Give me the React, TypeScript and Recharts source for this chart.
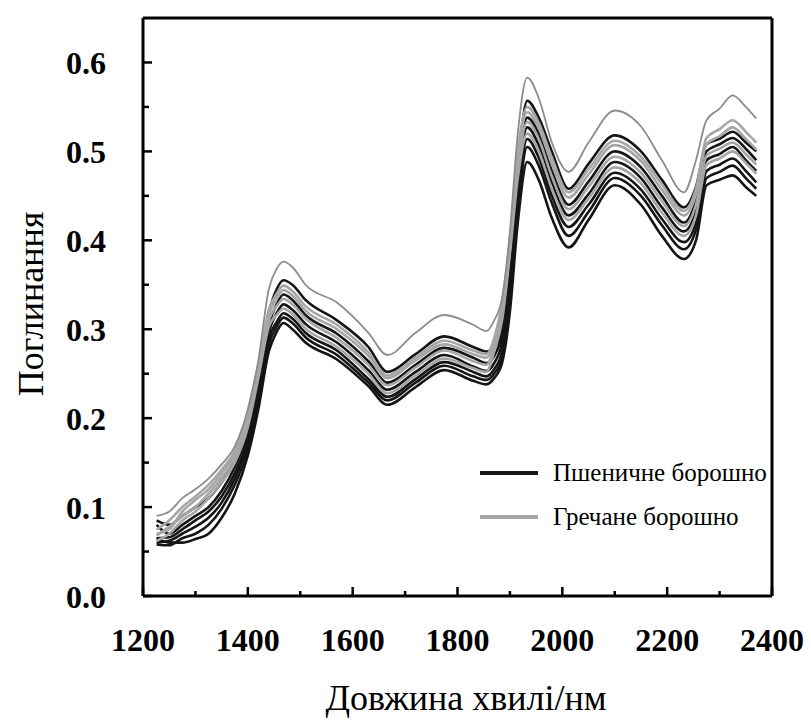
import React from 'react';
import { LineChart, Line, XAxis, YAxis, Legend, ReferenceLine } from 'recharts';

const wavelengths = [
  1226, 1250, 1275, 1300, 1325, 1350, 1375, 1400, 1420, 1440,
  1455, 1468, 1485, 1510, 1570, 1630, 1666, 1720, 1775, 1830,
  1855, 1870, 1885, 1900, 1915, 1933, 1955, 1980, 2012, 2050,
  2100, 2150, 2190, 2232, 2255, 2275, 2300, 2325, 2350, 2370,
];

// Buckwheat flour (gray)
const G1 = [
  0.090, 0.095, 0.110, 0.120, 0.132, 0.148, 0.168, 0.210, 0.265, 0.345,
  0.368, 0.376, 0.370, 0.350, 0.330, 0.296, 0.271, 0.296, 0.316, 0.305,
  0.298, 0.310, 0.335, 0.410, 0.520, 0.583, 0.560, 0.510, 0.477, 0.510,
  0.546, 0.528, 0.490, 0.454, 0.490, 0.535, 0.548, 0.563, 0.550, 0.537,
];
const G2 = [
  0.075, 0.085, 0.100, 0.112, 0.125, 0.142, 0.163, 0.205, 0.260, 0.322,
  0.340, 0.349, 0.343, 0.326, 0.305, 0.274, 0.248, 0.268, 0.287, 0.276,
  0.272, 0.290, 0.330, 0.400, 0.500, 0.550, 0.532, 0.493, 0.454, 0.480,
  0.512, 0.494, 0.463, 0.433, 0.458, 0.515, 0.525, 0.535, 0.522, 0.510,
];
const G3 = [
  0.070, 0.075, 0.095, 0.108, 0.120, 0.138, 0.160, 0.200, 0.255, 0.316,
  0.335, 0.344, 0.338, 0.321, 0.300, 0.270, 0.245, 0.265, 0.283, 0.272,
  0.268, 0.285, 0.320, 0.390, 0.490, 0.544, 0.526, 0.486, 0.448, 0.474,
  0.507, 0.489, 0.457, 0.428, 0.452, 0.508, 0.517, 0.527, 0.514, 0.502,
];
const G4 = [
  0.068, 0.078, 0.090, 0.100, 0.115, 0.133, 0.155, 0.196, 0.250, 0.310,
  0.326, 0.334, 0.328, 0.312, 0.290, 0.260, 0.237, 0.257, 0.276, 0.264,
  0.260, 0.280, 0.315, 0.390, 0.480, 0.533, 0.514, 0.472, 0.435, 0.460,
  0.494, 0.476, 0.444, 0.416, 0.440, 0.495, 0.503, 0.510, 0.497, 0.485,
];
const G5 = [
  0.062, 0.070, 0.085, 0.095, 0.110, 0.128, 0.150, 0.190, 0.245, 0.303,
  0.316, 0.323, 0.317, 0.301, 0.280, 0.250, 0.228, 0.248, 0.267, 0.256,
  0.252, 0.275, 0.310, 0.385, 0.470, 0.520, 0.500, 0.458, 0.423, 0.447,
  0.482, 0.464, 0.431, 0.405, 0.428, 0.485, 0.492, 0.500, 0.487, 0.475,
];

// Wheat flour (black)
const B1 = [
  0.085, 0.080, 0.090, 0.100, 0.110, 0.128, 0.152, 0.190, 0.245, 0.318,
  0.345, 0.355, 0.350, 0.333, 0.310, 0.280, 0.252, 0.272, 0.292, 0.280,
  0.275, 0.280, 0.300, 0.370, 0.480, 0.557, 0.538, 0.500, 0.458, 0.486,
  0.518, 0.500, 0.468, 0.437, 0.460, 0.508, 0.514, 0.522, 0.510, 0.500,
];
const B2 = [
  0.080, 0.070, 0.080, 0.090, 0.100, 0.118, 0.145, 0.185, 0.238, 0.305,
  0.328, 0.339, 0.333, 0.316, 0.295, 0.264, 0.240, 0.260, 0.279, 0.268,
  0.262, 0.270, 0.295, 0.360, 0.470, 0.538, 0.520, 0.478, 0.440, 0.466,
  0.500, 0.482, 0.450, 0.420, 0.445, 0.500, 0.508, 0.515, 0.503, 0.490,
];
const B3 = [
  0.065, 0.066, 0.075, 0.085, 0.095, 0.112, 0.138, 0.178, 0.232, 0.297,
  0.318, 0.328, 0.322, 0.306, 0.285, 0.254, 0.232, 0.252, 0.271, 0.258,
  0.253, 0.262, 0.285, 0.350, 0.460, 0.527, 0.507, 0.465, 0.428, 0.452,
  0.488, 0.470, 0.437, 0.410, 0.433, 0.490, 0.497, 0.505, 0.490, 0.478,
];
const B4 = [
  0.060, 0.062, 0.070, 0.078, 0.088, 0.105, 0.132, 0.172, 0.225, 0.290,
  0.308, 0.318, 0.312, 0.296, 0.276, 0.244, 0.224, 0.244, 0.263, 0.252,
  0.247, 0.255, 0.275, 0.340, 0.445, 0.514, 0.493, 0.450, 0.415, 0.440,
  0.476, 0.457, 0.424, 0.398, 0.420, 0.478, 0.485, 0.492, 0.478, 0.465,
];
const B5 = [
  0.058, 0.057, 0.065, 0.070, 0.080, 0.098, 0.125, 0.165, 0.218, 0.283,
  0.303, 0.313, 0.307, 0.291, 0.271, 0.240, 0.220, 0.240, 0.259, 0.247,
  0.243, 0.250, 0.268, 0.330, 0.435, 0.505, 0.484, 0.442, 0.405, 0.432,
  0.470, 0.450, 0.417, 0.390, 0.412, 0.470, 0.477, 0.484, 0.470, 0.458,
];
const B6 = [
  0.065, 0.060, 0.060, 0.064, 0.070, 0.088, 0.115, 0.158, 0.210, 0.275,
  0.297, 0.307, 0.300, 0.285, 0.266, 0.236, 0.215, 0.235, 0.254, 0.242,
  0.238, 0.245, 0.262, 0.320, 0.420, 0.488, 0.468, 0.425, 0.392, 0.423,
  0.462, 0.440, 0.405, 0.379, 0.400, 0.462, 0.468, 0.473, 0.460, 0.450,
];

const xTicks = [1200, 1300, 1400, 1500, 1600, 1700, 1800, 1900, 2000, 2100, 2200, 2300, 2400];
const yTicks = [0, 0.05, 0.1, 0.15, 0.2, 0.25, 0.3, 0.35, 0.4, 0.45, 0.5, 0.55, 0.6];
const xDomain = [1200, 2400];
const yDomain = [0, 0.65];

const legendLabels = ['Пшеничне борошно', 'Гречане борошно'];
const xTitle = 'Довжина хвилі/нм';
const yTitle = 'Поглинання';

const BLACK = '#151515';
const GRAY = '#a6a6a6';
const FONT = "'Liberation Serif', 'Times New Roman', serif";

const blackSeries = [
  { key: 'b1', values: B1 },
  { key: 'b2', values: B2 },
  { key: 'b3', values: B3 },
  { key: 'b4', values: B4 },
  { key: 'b5', values: B5 },
  { key: 'b6', values: B6 },
];
const graySeries = [
  { key: 'g2', values: G2 },
  { key: 'g3', values: G3 },
  { key: 'g4', values: G4 },
  { key: 'g5', values: G5 },
];

const data = wavelengths.map((nm, i) => {
  const row: Record<string, number> = { nm, g1: G1[i] };
  blackSeries.forEach((s) => (row[s.key] = s.values[i]));
  graySeries.forEach((s) => (row[s.key] = s.values[i]));
  return row;
});

const X_MARGIN = 20;
const Y_MARGIN = 10;

const XTick = (props: any) => {
  const { x, y, payload } = props;
  const axisY = y - X_MARGIN;
  const v = payload.value;
  const major = v % 200 === 0;
  return (
    <g>
      <line x1={x} x2={x} y1={axisY} y2={axisY - (major ? 9 : 5)} stroke="#000" strokeWidth={2.5} />
      {major && (
        <text x={x} y={axisY + 55} textAnchor="middle" style={{ fontFamily: FONT, fontWeight: 'bold', fontSize: 32 }} fill="#000">
          {v}
        </text>
      )}
    </g>
  );
};

const YTick = (props: any) => {
  const { x, y, payload } = props;
  const axisX = x + Y_MARGIN;
  const v = payload.value;
  const major = Math.round(v * 100) % 10 === 0;
  return (
    <g>
      <line x1={axisX} x2={axisX + (major ? 9 : 6)} y1={y} y2={y} stroke="#000" strokeWidth={2.5} />
      {major && (
        <text x={axisX - 37} y={y} dy="0.36em" textAnchor="end" style={{ fontFamily: FONT, fontWeight: 'bold', fontSize: 32 }} fill="#000">
          {v.toFixed(1)}
        </text>
      )}
    </g>
  );
};

const LegendContent = () => (
  <svg width={320} height={90} style={{ display: 'block' }}>
    <line x1={10} x2={68} y1={28} y2={28} stroke={BLACK} strokeWidth={4} />
    <text x={83} y={36} style={{ fontFamily: FONT, fontSize: 25 }} fill="#000">{legendLabels[0]}</text>
    <line x1={10} x2={68} y1={72} y2={72} stroke={GRAY} strokeWidth={4} />
    <text x={83} y={80} style={{ fontFamily: FONT, fontSize: 25 }} fill="#000">{legendLabels[1]}</text>
  </svg>
);

const titleStyle: React.CSSProperties = {
  position: 'absolute',
  fontFamily: FONT,
  fontSize: 36,
  lineHeight: '36px',
  whiteSpace: 'nowrap',
  color: '#000',
};

export default function App() {
  return (
    <div style={{ position: 'absolute', left: 0, top: 0, width: 811, height: 722, background: '#fff' }}>
      <LineChart width={811} height={722} data={data} margin={{ top: 18, right: 39, bottom: 0, left: 0 }}>
        <XAxis
          xAxisId="main"
          dataKey="nm"
          type="number"
          domain={xDomain}
          ticks={xTicks}
          interval={0}
          height={126}
          tickSize={0}
          tickMargin={X_MARGIN}
          tick={<XTick />}
          axisLine={{ stroke: '#000', strokeWidth: 3 }}
        />
        <YAxis
          yAxisId="main"
          type="number"
          domain={yDomain}
          ticks={yTicks}
          interval={0}
          width={143}
          tickSize={0}
          tickMargin={Y_MARGIN}
          tick={<YTick />}
          axisLine={{ stroke: '#000', strokeWidth: 3 }}
        />
        <ReferenceLine xAxisId="main" yAxisId="main" y={yDomain[1]} stroke="#000" strokeWidth={3} />
        <ReferenceLine xAxisId="main" yAxisId="main" x={xDomain[1]} stroke="#000" strokeWidth={3} />
        {blackSeries.map((s) => (
          <Line
            key={s.key}
            xAxisId="main"
            yAxisId="main"
            dataKey={s.key}
            type="monotone"
            stroke={BLACK}
            strokeWidth={2.6}
            dot={false}
            isAnimationActive={false}
          />
        ))}
        {graySeries.map((s) => (
          <Line
            key={s.key}
            xAxisId="main"
            yAxisId="main"
            dataKey={s.key}
            type="monotone"
            stroke={GRAY}
            strokeWidth={2.6}
            dot={false}
            isAnimationActive={false}
          />
        ))}
        <Line
          xAxisId="main"
          yAxisId="main"
          dataKey="g1"
          type="monotone"
          stroke="#8c8c8c"
          strokeWidth={1.8}
          dot={false}
          isAnimationActive={false}
        />
        <Legend
          layout="vertical"
          align="center"
          verticalAlign="middle"
          content={<LegendContent />}
          wrapperStyle={{ position: 'absolute', left: 470, top: 445, width: 320, height: 90 }}
        />
      </LineChart>
      <div style={{ ...titleStyle, left: 466, top: 680, transform: 'translateX(-50%)' }}>{xTitle}</div>
      <div
        style={{
          ...titleStyle,
          left: 31,
          top: 304,
          transform: 'translate(-50%, -50%) rotate(-90deg)',
        }}
      >
        {yTitle}
      </div>
    </div>
  );
}
